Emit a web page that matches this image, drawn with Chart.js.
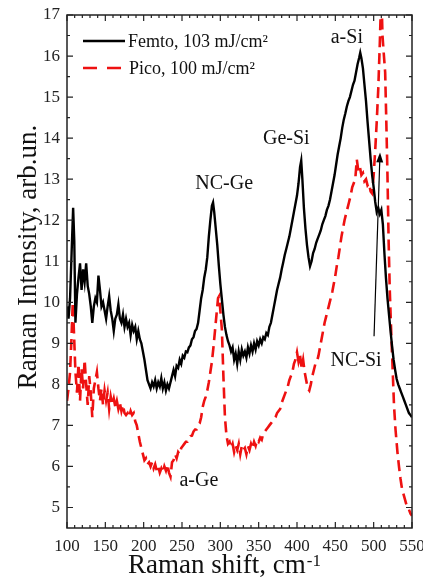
<!DOCTYPE html>
<html>
<head>
<meta charset="utf-8">
<script src="https://cdn.jsdelivr.net/npm/chart.js@4.4.1/dist/chart.umd.min.js"></script>
<style>
  html, body { margin: 0; padding: 0; background: #fff; }
  #wrap { width: 423px; height: 585px; }
</style>
</head>
<body>
<div id="wrap"><canvas id="ramanChart" width="423" height="585"></canvas></div>
<script>
const X_TICKS = [100, 150, 200, 250, 300, 350, 400, 450, 500, 550];
const Y_TICKS = [5, 6, 7, 8, 9, 10, 11, 12, 13, 14, 15, 16, 17];

const FEMTO_LABEL = 'Femto, 103 mJ/cm\u00B2';
const PICO_LABEL = 'Pico, 100 mJ/cm\u00B2';

// Femto
const FEMTO_X = [100, 102, 104, 106, 108, 109.5, 111, 113, 115, 117, 119, 121, 123, 125, 127, 129, 131, 133, 135, 137,
    139, 141, 143, 145, 147, 149, 151, 153, 155, 157, 159, 161, 163, 165, 167, 169, 171, 173, 175, 177,
    179, 181, 183, 185, 187, 189, 191, 193, 195, 197, 199, 201, 203, 205, 207, 209, 211, 213, 215, 217,
    219, 221, 223, 225, 227, 229, 231, 233, 235, 237, 239, 241, 243, 245, 247, 249, 251, 253, 255, 257,
    259, 261, 263, 265, 267, 269, 271, 273, 275, 277, 279, 281, 283, 285, 287, 289, 290.5, 292, 294, 296,
    298, 300, 302, 304, 306, 308, 310, 312, 314, 316, 318, 320, 322, 324, 326, 328, 330, 332, 334, 336,
    338, 340, 342, 344, 346, 348, 350, 352, 354, 356, 358, 360, 362, 364, 366, 368, 370, 372, 374, 376,
    378, 380, 382, 384, 386, 388, 390, 392, 394, 396, 398, 400, 402, 404, 405.5, 407, 409, 411, 413, 415,
    417, 419, 421, 423, 425, 427, 429, 431, 433, 435, 437, 439, 441, 443, 445, 447, 449, 451, 453, 455,
    457, 459, 461, 463, 465, 467, 469, 471, 473, 475, 477, 479, 481, 482.5, 484, 486, 488, 490, 492, 494,
    496, 498, 500, 502, 504, 506, 508, 510, 512, 514, 516, 518, 520, 522, 524, 526, 528, 530, 532, 534,
    536, 538, 540, 542, 544, 546, 548, 550];
const FEMTO_Y = [9.9, 9.6, 10.1, 11.2, 12.3, 11.5, 9.5, 10.2, 10.6, 10.95, 10.3, 10.8, 10.5, 10.95, 10.4, 10.2, 9.9, 9.5, 9.9, 10.1,
    10.0, 10.65, 10.3, 9.9, 10.0, 9.8, 9.6, 9.9, 10.15, 9.8, 9.6, 9.3, 9.6, 9.7, 9.95, 9.6, 9.5, 9.7, 9.4, 9.6,
    9.4, 9.5, 9.2, 9.45, 9.3, 9.4, 9.1, 9.3, 9.1, 9.0, 8.8, 8.6, 8.35, 8.1, 8.0, 7.9, 8.05, 7.95, 8.1, 7.9,
    8.05, 7.95, 8.15, 7.9, 8.05, 7.85, 8.0, 7.9, 8.05, 8.2, 8.35, 8.2, 8.45, 8.4, 8.6, 8.5, 8.7, 8.65, 8.8, 8.78,
    8.9, 8.95, 9.1, 9.15, 9.3, 9.35, 9.5, 9.8, 10.1, 10.3, 10.6, 10.8, 11.1, 11.6, 12.0, 12.35, 12.43, 12.2, 11.8, 11.4,
    10.9, 10.45, 10.07, 9.7, 9.4, 9.2, 9.05, 8.95, 8.8, 8.9, 8.6, 8.75, 8.5, 8.8, 8.6, 8.85, 8.7, 8.8, 8.65, 8.9,
    8.75, 8.95, 8.8, 9.0, 8.85, 9.05, 8.95, 9.1, 9.0, 9.15, 9.1, 9.25, 9.2, 9.4, 9.5, 9.7, 9.9, 10.1, 10.3, 10.45,
    10.6, 10.8, 10.97, 11.15, 11.3, 11.45, 11.6, 11.8, 12.0, 12.2, 12.4, 12.6, 12.9, 13.3, 13.45, 13.0, 12.3, 11.8, 11.4, 11.1,
    10.88, 11.0, 11.2, 11.3, 11.45, 11.55, 11.65, 11.75, 11.9, 12.0, 12.1, 12.25, 12.35, 12.5, 12.7, 12.9, 13.1, 13.35, 13.6, 13.8,
    14.0, 14.25, 14.45, 14.6, 14.77, 14.9, 15.0, 15.15, 15.3, 15.4, 15.6, 15.8, 15.95, 16.08, 15.95, 15.7, 15.3, 14.9, 14.4, 13.95,
    13.5, 13.1, 12.8, 12.45, 12.2, 12.3, 12.15, 12.25, 11.9, 11.2, 10.6, 10.1, 9.7, 9.3, 8.93, 8.6, 8.35, 8.13, 8.0, 7.9,
    7.8, 7.7, 7.6, 7.5, 7.4, 7.3, 7.25, 7.2];

// Pico
const PICO_X = [100, 102, 104, 106, 107.5, 109, 111, 113, 115, 117, 119, 121, 123, 125, 127, 129, 131, 133, 135, 137,
    139, 141, 143, 145, 147, 149, 151, 153, 155, 157, 159, 161, 163, 165, 167, 169, 171, 173, 175, 177,
    179, 181, 183, 185, 187, 189, 191, 193, 195, 197, 199, 201, 203, 205, 207, 209, 211, 213, 215, 217,
    219, 221, 223, 225, 227, 229, 231, 233, 235, 237, 239, 241, 243, 245, 247, 249, 251, 253, 255, 257,
    259, 261, 263, 265, 267, 269, 271, 273, 275, 277, 279, 281, 283, 285, 287, 289, 291, 293, 295, 297,
    298.5, 300, 302, 304, 306, 308, 310, 312, 314, 316, 318, 320, 322, 324, 326, 328, 330, 332, 334, 336,
    338, 340, 342, 344, 346, 348, 350, 352, 354, 356, 358, 360, 362, 364, 366, 368, 370, 372, 374, 376,
    378, 380, 382, 384, 386, 388, 390, 392, 394, 396, 398, 400, 402, 404, 406, 408, 410, 412, 414, 416,
    418, 420, 422, 424, 426, 428, 430, 432, 434, 436, 438, 440, 442, 444, 446, 448, 450, 452, 454, 456,
    458, 460, 462, 464, 466, 468, 470, 472, 474, 476, 478, 480, 482, 484, 486, 488, 490, 492, 494, 496,
    498, 500, 502, 504, 506, 508, 510, 511.5, 513, 515, 516.5, 518, 519.5, 521, 523, 524.5, 526.5, 528.5, 531, 533,
    535, 537, 540, 543, 546, 548, 550];
const PICO_Y = [7.6, 7.9, 8.3, 9.2, 10.0, 9.3, 8.3, 7.8, 8.5, 7.6, 8.4, 7.9, 8.6, 8.0, 7.5, 8.2, 7.8, 7.2, 7.9, 8.1,
    8.3, 7.9, 7.6, 7.9, 7.5, 7.85, 7.6, 7.8, 7.4, 7.7, 7.5, 7.65, 7.45, 7.6, 7.4, 7.55, 7.35, 7.5, 7.3, 7.25,
    7.3, 7.2, 7.35, 7.25, 7.3, 7.1, 7.0, 6.8, 6.6, 6.45, 6.3, 6.15, 6.2, 6.05, 6.1, 6.0, 6.1, 5.95, 6.05, 5.9,
    6.0, 5.85, 5.95, 5.85, 6.0, 5.9, 6.05, 5.85, 5.75, 6.1, 6.15, 6.3, 6.2, 6.35, 6.3, 6.45, 6.5, 6.55, 6.6, 6.6,
    6.7, 6.74, 6.75, 6.85, 6.9, 6.9, 7.0, 7.05, 7.2, 7.45, 7.6, 7.7, 7.85, 8.05, 8.3, 8.55, 8.9, 9.3, 9.7, 10.1,
    10.15, 9.8, 9.34, 8.2, 7.2, 6.75, 6.55, 6.6, 6.45, 6.55, 6.35, 6.5, 6.4, 6.55, 6.3, 6.5, 6.4, 6.45, 6.3, 6.5,
    6.4, 6.55, 6.45, 6.6, 6.5, 6.65, 6.6, 6.7, 6.65, 6.8, 6.85, 6.9, 6.95, 7.0, 7.05, 7.1, 7.15, 7.2, 7.3, 7.35,
    7.4, 7.55, 7.65, 7.75, 7.85, 7.95, 8.1, 8.2, 8.3, 8.5, 8.6, 8.78, 8.55, 8.7, 8.4, 8.6, 8.3, 8.1, 7.9, 7.85,
    8.0, 8.2, 8.35, 8.5, 8.55, 8.7, 8.9, 9.1, 9.3, 9.5, 9.65, 9.8, 9.95, 10.1, 10.25, 10.45, 10.65, 10.9, 11.1, 11.35,
    11.6, 11.8, 12.0, 12.15, 12.3, 12.45, 12.6, 12.8, 12.9, 13.0, 13.48, 13.2, 13.3, 13.1, 13.15, 12.95, 13.0, 12.85, 12.9, 12.7,
    12.65, 13.1, 13.7, 14.4, 15.2, 16.3, 17.6, 16.5, 16.1, 15.6, 14.4, 13.1, 11.5, 10.3, 9.2, 8.5, 7.5, 6.9, 6.35, 6.0,
    5.7, 5.45, 5.25, 5.05, 4.95, 4.85, 4.8];

// peak names, placed in data coordinates (centre x, baseline y)
const PEAK_LABELS = [
    { text: 'NC-Ge', x: 305, y: 12.75 },
    { text: 'Ge-Si', x: 386, y: 13.85 },
    { text: 'a-Si', x: 465, y: 16.32 },
    { text: 'NC-Si', x: 477, y: 8.44 },
    { text: 'a-Ge', x: 272, y: 5.52 }
];
const NC_SI_ARROW = { from: [500.5, 9.17], to: [508.3, 13.65] };

const SERIF = '"Liberation Serif", "Times New Roman", serif';
const RED = '#ee1111';

function toPoints(xs, ys) {
    return xs.map((x, i) => ({ x: x, y: ys[i] }));
}

// box, inward ticks, legend, peak labels and axis titles
const decorPlugin = {
    id: 'decor',
    afterDraw(chart) {
        const { ctx, chartArea: a, scales: { x, y } } = chart;
        ctx.save();

        ctx.strokeStyle = '#222';
        ctx.lineWidth = 1.5;
        ctx.strokeRect(a.left, a.top, a.right - a.left, a.bottom - a.top);

        ctx.lineWidth = 1.2;
        ctx.beginPath();
        for (let v = 100; v <= 550; v += 10) {
            const px = x.getPixelForValue(v);
            const len = v % 50 === 0 ? 6 : 3;
            ctx.moveTo(px, a.bottom); ctx.lineTo(px, a.bottom - len);
            ctx.moveTo(px, a.top); ctx.lineTo(px, a.top + len);
        }
        for (let v = 5; v <= 17; v += 0.5) {
            const py = y.getPixelForValue(v);
            const len = v % 1 === 0 ? 6 : 3;
            ctx.moveTo(a.left, py); ctx.lineTo(a.left + len, py);
            ctx.moveTo(a.right, py); ctx.lineTo(a.right - len, py);
        }
        ctx.stroke();

        // legend
        ctx.lineWidth = 2.5;
        ctx.strokeStyle = '#000';
        ctx.beginPath(); ctx.moveTo(83, 41); ctx.lineTo(125, 41); ctx.stroke();
        ctx.strokeStyle = RED;
        ctx.setLineDash([14, 10]);
        ctx.beginPath(); ctx.moveTo(83, 68); ctx.lineTo(121, 68); ctx.stroke();
        ctx.setLineDash([]);
        ctx.fillStyle = '#111';
        ctx.font = '18px ' + SERIF;
        ctx.textAlign = 'left';
        ctx.textBaseline = 'alphabetic';
        ctx.fillText(FEMTO_LABEL, 128, 47);
        ctx.fillText(PICO_LABEL, 129, 74);

        // peak names
        ctx.font = '20px ' + SERIF;
        ctx.textAlign = 'center';
        PEAK_LABELS.forEach(l => {
            ctx.fillText(l.text, x.getPixelForValue(l.x), y.getPixelForValue(l.y));
        });

        // arrow to NC-Si shoulder
        const x0 = x.getPixelForValue(NC_SI_ARROW.from[0]), y0 = y.getPixelForValue(NC_SI_ARROW.from[1]);
        const x1 = x.getPixelForValue(NC_SI_ARROW.to[0]), y1 = y.getPixelForValue(NC_SI_ARROW.to[1]);
        const ang = Math.atan2(y1 - y0, x1 - x0);
        ctx.strokeStyle = '#000';
        ctx.lineWidth = 1.2;
        ctx.beginPath(); ctx.moveTo(x0, y0); ctx.lineTo(x1 - 8 * Math.cos(ang), y1 - 8 * Math.sin(ang)); ctx.stroke();
        ctx.beginPath();
        ctx.moveTo(x1, y1);
        ctx.lineTo(x1 - 10 * Math.cos(ang) + 3.5 * Math.sin(ang), y1 - 10 * Math.sin(ang) - 3.5 * Math.cos(ang));
        ctx.lineTo(x1 - 10 * Math.cos(ang) - 3.5 * Math.sin(ang), y1 - 10 * Math.sin(ang) + 3.5 * Math.cos(ang));
        ctx.closePath();
        ctx.fillStyle = '#000';
        ctx.fill();

        // axis titles
        ctx.fillStyle = '#111';
        ctx.font = '27px ' + SERIF;
        const main = 'Raman shift, cm';
        const w = ctx.measureText(main).width;
        ctx.textAlign = 'left';
        ctx.fillText(main, 128, 573);
        ctx.font = '17px ' + SERIF;
        ctx.fillText('-1', 128 + w + 1, 566);

        ctx.font = '27px ' + SERIF;
        ctx.translate(36, 257);
        ctx.rotate(-Math.PI / 2);
        ctx.textAlign = 'center';
        ctx.fillText('Raman Intensity, arb.un.', 0, 0);

        ctx.restore();
    }
};

const ctx = document.getElementById('ramanChart').getContext('2d');

new Chart(ctx, {
    type: 'line',
    data: {
        datasets: [
            {
                label: FEMTO_LABEL,
                data: toPoints(FEMTO_X, FEMTO_Y),
                borderColor: '#000',
                borderWidth: 2.4,
                clip: 0
            },
            {
                label: PICO_LABEL,
                data: toPoints(PICO_X, PICO_Y),
                borderColor: RED,
                borderWidth: 2.6,
                borderDash: [11, 6],
                clip: 0
            }
        ]
    },
    options: {
        responsive: false,
        animation: false,
        layout: { padding: { left: 0, right: 11, top: 15, bottom: 0 } },
        elements: { point: { radius: 0 }, line: { tension: 0 } },
        plugins: {
            legend: { display: false },
            tooltip: { enabled: false }
        },
        scales: {
            x: {
                type: 'linear',
                min: 100,
                max: 550,
                grid: { display: false, drawTicks: false },
                border: { display: false },
                ticks: { padding: 8, color: '#222', font: { family: SERIF, size: 17 }, maxRotation: 0 },
                afterBuildTicks: s => { s.ticks = X_TICKS.map(v => ({ value: v })); },
                afterFit: s => { s.height = 57; s.paddingLeft = 0; s.paddingRight = 0; }
            },
            y: {
                min: 4.5,
                max: 17,
                grid: { display: false, drawTicks: false },
                border: { display: false },
                ticks: { padding: 7, color: '#222', font: { family: SERIF, size: 17 } },
                afterBuildTicks: s => { s.ticks = Y_TICKS.map(v => ({ value: v })); },
                afterFit: s => { s.width = 67; s.paddingTop = 0; s.paddingBottom = 0; }
            }
        }
    },
    plugins: [decorPlugin]
});
</script>
</body>
</html>
